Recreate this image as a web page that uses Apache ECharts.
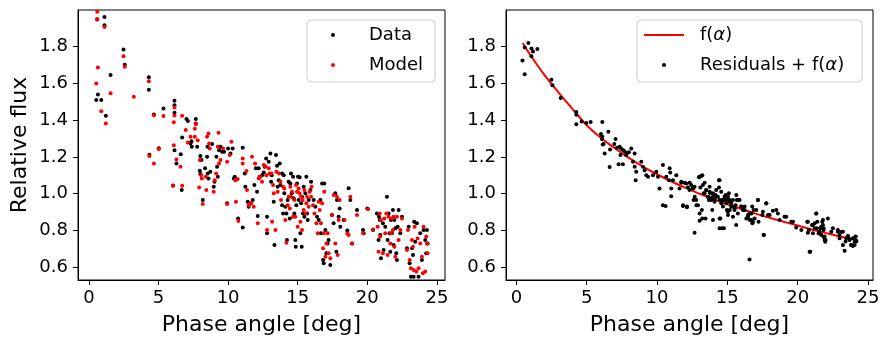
<!DOCTYPE html>
<html><head><meta charset="utf-8">
<script src="https://cdn.jsdelivr.net/npm/echarts@6/dist/echarts.min.js"></script>
<style>html,body{margin:0;padding:0;background:#fff}#c{width:890px;height:346px}</style>
</head><body><div id="c"></div>
<script>
const xTicks=[0,5,10,15,20,25];
const yTicks=[0.6,0.8,1.0,1.2,1.4,1.6,1.8];
const dataPts=[[0.60,1.947],[1.12,1.961],[1.12,1.916],[0.53,1.509],[0.65,1.539],[0.89,1.509],[1.22,1.424],[1.56,1.646],[2.49,1.784],[2.58,1.702],[4.31,1.633],[4.31,1.565],[4.35,1.212],[4.67,1.431],[5.02,1.248],[5.36,1.463],
[6.15,1.505],[6.15,1.481],[6.15,1.44],[6.15,1.237],[6.29,1.165],[6.60,1.215],[6.67,1.02],[6.70,1.306],[6.05,1.045],[7.01,1.407],[7.11,1.396],[7.30,1.273],[7.37,1.286],[7.39,1.255],[7.68,1.407],[7.68,1.382],[7.78,1.255],[8.01,1.205],[7.97,1.125],[8.01,1.107],
[8.09,1.183],[8.18,0.966],[8.35,1.138],[8.49,1.201],[8.52,1.255],[8.54,1.11],[8.59,1.083],[8.73,1.12],[8.85,1.27],[8.97,1.038],[9.02,1.065],[9.16,1.201],[9.21,1.147],[9.26,1.092],[9.35,1.237],[9.45,1.255],[9.57,1.228],[9.71,1.228],[9.93,0.948],[10.0,1.246],
[10.17,1.219],[10.33,1.246],[10.41,1.083],[10.48,1.092],[10.72,0.866],[11.05,1.25],[11.05,0.817],[11.20,1.11],[11.24,1.038],[11.41,0.957],[11.48,0.929],[11.65,0.948],[11.77,0.966],[11.89,1.047],[11.99,1.138],
[12.08,1.011],[12.13,0.879],[12.20,1.138],[12.27,1.092],[12.44,1.101],[12.56,1.116],[12.63,1.147],[12.73,1.192],[12.80,0.875],[12.80,0.785],[12.92,1.174],[13.04,1.219],[13.09,1.065],[13.13,1.101],[13.28,0.957],[13.33,0.721],[13.44,1.21],[13.52,1.152],[13.56,1.038],[13.64,1.074],[13.71,1.165],[13.76,1.047],[13.88,1.11],[13.88,0.938],[13.95,0.893],[14.0,1.101],
[14.04,1.002],[14.11,0.929],[14.19,0.893],[14.23,0.748],[14.28,0.966],[14.35,1.065],[14.43,0.866],[14.47,1.056],[14.52,1.11],[14.57,1.002],[14.67,1.092],[14.71,0.975],[14.76,0.893],[14.83,0.748],[14.86,0.712],[14.90,0.938],[14.95,1.056],[15.02,1.092],[15.07,0.966],[15.14,1.089],[15.19,0.785],[15.24,0.948],[15.29,0.712],[15.31,0.984],[15.38,0.893],[15.43,1.038],[15.48,0.875],[15.55,1.002],[15.62,1.092],[15.67,0.893],[15.72,0.857],[15.79,0.966],[15.91,1.02],[15.96,1.065],
[16.15,0.966],[16.27,0.929],[16.39,0.875],[16.51,0.857],[16.63,0.966],[16.67,0.785],[16.75,1.056],[16.82,0.64],[16.87,0.622],[16.91,1.056],[16.99,0.803],[17.06,0.676],[17.15,0.73],[17.22,0.748],[17.34,0.613],[17.46,0.884],[17.58,0.839],[17.70,1.002],[17.78,0.685],[17.82,0.966],[17.94,0.875],[18.01,0.92],[18.06,0.821],
[18.30,0.857],[18.56,0.80],[18.66,1.03],[18.78,0.966],[18.90,0.73],[19.26,0.911],[19.69,0.803],[19.74,0.785],[20.0,0.92],
[20.41,0.803],[20.69,0.893],[20.81,0.748],[20.84,0.875],[20.89,0.857],[20.93,0.776],[20.98,0.649],[21.12,0.839],[21.17,0.694],[21.29,0.821],[21.41,0.984],[21.46,0.748],[21.53,0.893],[21.60,0.785],[21.65,0.685],[21.70,0.857],[21.77,0.785],[21.84,0.911],[21.89,0.721],[21.94,0.857],[22.01,0.812],[22.08,0.676],[22.13,0.64],[22.18,0.821],[22.25,0.911],[22.37,0.785],[22.49,0.875],
[22.85,0.703],[22.97,0.821],[23.04,0.622],[23.13,0.549],[23.21,0.703],[23.28,0.667],[23.33,0.549],[23.37,0.848],[23.44,0.739],[23.56,0.839],[23.68,0.549],[23.80,0.785],[23.92,0.64],[24.04,0.803],[24.16,0.748],[24.23,0.676],[24.28,0.803],[24.33,0.73]];
const modelPts=[[0.60,1.99],[0.60,1.95],[1.12,1.907],[0.53,1.60],[0.65,1.686],[0.89,1.449],[1.22,1.382],[1.56,1.547],[2.49,1.748],[2.58,1.69],[3.23,1.527],[4.31,1.612],[4.35,1.205],[4.67,1.427],[4.67,1.165],[5.02,1.243],[5.36,1.422],
[6.10,1.389],[6.15,1.469],[6.15,1.425],[6.10,1.264],[6.29,1.186],[6.58,1.147],[6.05,1.043],[6.70,1.043],[6.70,1.424],[6.96,1.346],[7.11,1.279],[7.30,1.31],[7.61,1.31],[7.61,1.353],[7.68,1.378],[7.82,1.291],[7.92,1.034],[7.97,1.183],[8.06,1.10],
[8.18,0.944],[8.11,1.083],[8.40,1.092],[8.44,1.02],[8.49,1.31],[8.59,1.328],[8.64,1.273],[8.68,1.246],[8.97,1.011],[9.04,1.074],[9.14,1.11],[9.26,1.255],[9.31,1.331],[9.35,1.165],[9.45,1.183],[9.64,1.246],[9.93,0.944],[9.93,1.174],
[10.12,1.21],[10.24,1.282],[10.53,1.074],[10.57,0.957],[10.69,1.08],[10.74,0.852],[11.05,1.192],[11.05,1.165],[11.32,1.123],[11.36,1.02],[11.48,0.938],[11.65,0.951],[11.72,1.201],[11.84,0.929],[11.94,1.165],
[12.13,0.839],[12.20,1.083],[12.32,1.092],[12.44,1.065],[12.56,1.156],[12.68,1.15],[12.75,1.101],[12.80,0.803],[12.92,1.138],[12.99,1.11],[13.11,1.11],[13.16,0.848],[13.23,1.047],[13.28,1.002],[13.40,0.803],[13.47,1.119],[13.56,1.011],[13.66,1.11],[13.76,1.065],[13.80,0.966],[13.95,1.038],
[14.04,1.029],[14.11,0.857],[14.19,0.734],[14.28,0.938],[14.35,0.984],[14.43,0.92],[14.47,1.038],[14.52,0.984],[14.59,1.011],[14.67,0.875],[14.76,0.966],[14.83,0.875],[14.88,1.047],[14.95,1.011],[15.0,0.821],[15.07,1.029],[15.14,1.002],[15.19,0.848],[15.24,0.984],[15.31,0.803],[15.36,0.966],[15.43,0.911],[15.48,1.02],[15.55,0.893],[15.62,0.948],[15.67,0.984],[15.79,0.929],[15.86,1.011],[15.96,0.984],[16.0,1.038],
[16.10,0.938],[16.20,0.893],[16.34,0.839],[16.44,0.785],[16.51,0.957],[16.58,0.911],[16.67,0.839],[16.75,0.948],[16.82,0.703],[16.87,0.785],[16.91,1.011],[16.99,0.658],[17.06,0.73],[17.15,0.785],[17.22,0.676],[17.34,0.649],[17.46,0.884],[17.58,0.993],[17.70,0.73],[17.82,0.984],[17.87,0.667],[17.94,0.857],[18.01,0.966],
[18.37,0.857],[18.56,0.784],[18.66,0.775],[18.78,0.984],[18.90,0.73],[19.26,0.884],[19.69,0.785],[20.05,0.915],
[20.41,0.806],[20.74,0.821],[20.81,0.685],[20.89,0.893],[20.93,0.767],[20.98,0.857],[21.12,0.676],[21.22,0.866],[21.29,0.785],[21.36,0.893],[21.46,0.667],[21.53,0.875],[21.65,0.73],[21.70,0.785],[21.77,0.866],[21.84,0.803],[21.89,0.875],[21.94,0.712],[22.01,0.658],[22.13,0.875],[22.25,0.748],[22.37,0.803],[22.49,0.866],
[22.85,0.694],[22.92,0.803],[23.04,0.64],[23.13,0.595],[23.21,0.748],[23.28,0.712],[23.33,0.586],[23.40,0.821],[23.52,0.577],[23.61,0.757],[23.68,0.595],[23.80,0.73],[23.92,0.658],[23.99,0.568],[24.04,0.821],[24.16,0.577],[24.23,0.767],[24.28,0.73],[24.33,0.676]];
const curvePts=[[0.45,1.82],[1,1.753],[2,1.645],[3,1.55],[4,1.46],[5,1.372],[6,1.304],[7,1.248],[8,1.195],[9,1.148],[10,1.106],[11,1.068],[12,1.033],[13,1.001],[14,0.971],[15,0.943],[16,0.917],[17,0.892],[18,0.869],[19,0.848],[20,0.827],[21,0.806],[22,0.786],[23,0.768],[24.2,0.75]];
const residPts=[[0.43,1.724],[0.59,1.65],[0.59,1.795],[0.85,1.82],[1.07,1.79],[1.18,1.773],[1.07,1.748],[1.49,1.787],[2.49,1.62],[2.56,1.59],[3.15,1.52],[4.26,1.445],[4.26,1.43],[4.26,1.378],[4.64,1.393],[4.97,1.384],[5.28,1.39],[6.11,1.39],[6.01,1.325],[6.11,1.31],[6.08,1.298],[6.14,1.268],[6.28,1.219],[6.2,1.27],[6.54,1.337],[6.63,1.145],[6.66,1.24],[6.96,1.271],[7.05,1.297],[7.27,1.16],[7.57,1.16],[7.34,1.255],[7.45,1.245],[7.6,1.236],[7.7,1.23],[7.85,1.22],[8.0,1.225],[7.15,1.25],[7.4,1.21],[7.8,1.21],
[8.17,1.246],[8.41,1.219],[8.29,1.174],[8.41,1.147],[8.52,1.12],[8.48,1.074],[8.88,1.174],[9.0,1.147],[9.12,1.128],[9.24,1.101],[9.36,1.092],[9.71,1.101],[9.95,1.12],[10.07,1.092],[10.18,1.029],[10.42,1.156],[10.42,0.938],[10.61,0.933],[10.66,1.092],[10.85,1.074],[10.9,1.138],[10.94,1.116],[11.01,1.029],[11.01,0.987],[11.13,1.074],[11.37,1.101],[11.6,1.029],[11.72,1.06],[11.84,0.933],[11.96,1.06],[12.13,0.926],[12.2,1.034],[12.32,1.02],[12.43,1.047],[12.55,1.029],[12.6,0.966],[12.67,1.038],[12.79,0.966],[12.91,0.938],[12.98,1.089],[13.03,0.893],[13.15,1.096],[13.19,0.911],[13.26,1.047],[13.38,1.002],[13.45,0.866],[13.5,1.02],[13.62,0.984],[13.69,0.966],[13.74,1.038],[13.79,1.002],[13.86,0.975],[13.93,0.911],[13.97,0.984],[14.09,0.957],[14.16,0.993],[14.21,1.02],[14.33,0.984],[14.4,1.074],[14.45,0.966],[14.5,0.866],[14.57,0.948],[14.64,0.966],[14.69,0.93],[14.76,0.812],[14.8,0.984],[14.88,0.966],[14.92,0.948],[14.97,0.911],[15.04,0.902],[15.11,1.002],[15.16,0.966],[15.28,0.948],[15.35,0.93],[15.4,0.875],[15.51,0.911],[15.59,0.938],[15.63,0.83],[15.68,0.966],[15.75,0.893],[15.87,0.966],[15.99,0.93],[16.11,0.911],[16.23,0.93],[16.35,0.866],[16.47,0.875],[16.58,0.893],[16.7,0.857],[16.77,0.93],[16.82,0.848],[16.94,0.866],[17.06,0.911],[17.17,0.966],[16.58,0.643],[12.67,0.788],[13.03,0.853],[14.45,0.812],
[11.73,1.065],[12.08,1.056],[12.32,1.06],[12.56,1.029],[11.85,0.938],[12.13,0.93],[12.68,0.984],[12.8,0.938],[13.03,1.092],[13.22,1.1],[13.08,1.034],[13.39,1.06],[13.32,1.002],[13.5,1.02],[13.62,0.984],[13.74,1.011],[13.98,1.002],[13.86,0.966],[14.1,0.966],[14.22,0.984],[14.45,1.074],[14.41,1.034],[14.57,1.011],[14.69,0.966],[14.88,0.993],[14.93,0.966],[15.05,0.984],[15.17,0.957],[15.28,0.93],[15.4,0.966],[15.52,0.92],[15.64,0.993],[15.76,0.966],[15.17,0.911],[15.05,0.884],[14.45,0.866],[14.64,0.812],[13.98,0.857],[13.22,0.866],[16.0,0.93],[16.23,0.911],[16.47,0.884],[16.59,0.857],[16.71,0.893],[16.78,0.839],[16.87,0.911],[17.18,0.966],[17.49,0.884],[17.58,0.776],[17.77,0.948],[18.01,0.884],[18.48,0.911],[18.6,0.893],[19.19,0.875],[19.67,0.848],[20.73,0.848],[20.8,0.803],[20.9,0.685],[21.09,0.83],[21.21,0.839],[21.33,0.893],[21.37,0.812],[21.56,0.794],[21.68,0.821],[21.8,0.857],[21.85,0.812],[21.92,0.767],[21.99,0.749],[22.15,0.866],[22.51,0.812],[22.87,0.794],[22.98,0.776],[23.22,0.794],[23.41,0.74],[23.58,0.767],[23.7,0.749],[23.81,0.721],[23.93,0.758],[24.05,0.721],[24.12,0.767],[24.17,0.74],
[17.22,0.848],[17.53,0.902],[17.6,0.776],[17.77,0.947],[17.89,0.884],[18.24,0.908],[18.72,0.857],[19.07,0.875],[19.55,0.848],[19.9,0.817],[20.26,0.803],[20.68,0.848],[20.73,0.788],[20.85,0.685],[21.02,0.83],[21.09,0.785],[21.21,0.812],[21.32,0.893],[21.4,0.848],[21.49,0.785],[21.63,0.812],[21.68,0.776],[21.75,0.848],[21.8,0.83],[21.85,0.803],[21.87,0.763],[21.92,0.748],[21.96,0.739],[22.39,0.794],[22.86,0.803],[22.98,0.758],[23.1,0.794],[23.22,0.721],[23.34,0.69],[23.46,0.758],[23.57,0.77],[23.69,0.752],[23.81,0.721],[23.93,0.716],[24.05,0.739],[24.12,0.766],[24.17,0.745]];

const FONT='DejaVu Sans';
function xAx(i,min,max){
  return {type:'value',gridIndex:i,min:min,max:max,name:'Phase angle [deg]',nameLocation:'middle',nameGap:34,
    nameTextStyle:{fontFamily:FONT,fontSize:22,color:'#000'},
    axisLine:{show:true,onZero:false,lineStyle:{color:'#000',width:1}},
    axisTick:{show:true,length:5,customValues:xTicks,lineStyle:{color:'#000',width:1}},
    axisLabel:{customValues:xTicks,fontFamily:FONT,fontSize:18,color:'#000',margin:9},
    splitLine:{show:false}};
}
function yAx(i,name){
  return {type:'value',gridIndex:i,min:0.531,max:1.999,name:name,nameLocation:'middle',nameGap:47,
    nameTextStyle:{fontFamily:FONT,fontSize:22,color:'#000'},
    axisLine:{show:true,onZero:false,lineStyle:{color:'#000',width:1}},
    axisTick:{show:true,length:5,customValues:yTicks,lineStyle:{color:'#000',width:1}},
    axisLabel:{customValues:yTicks,fontFamily:FONT,fontSize:18,color:'#000',margin:10,formatter:function(v){return v.toFixed(1);}},
    splitLine:{show:false}};
}
function legendFmt(n){return n.replace('α','{i|α}');}
const legTextStyle={fontFamily:FONT,fontSize:18,color:'#000',lineHeight:18,padding:[0,0,0,11],
  rich:{i:{fontFamily:FONT,fontStyle:'italic',fontSize:18,color:'#000',lineHeight:18}}};
function leg(names,left,pad){
  return {data:names,left:left,top:20,orient:'vertical',itemWidth:40,itemHeight:4,itemGap:12,
    padding:pad,backgroundColor:'rgba(255,255,255,0.8)',borderColor:'#cccccc',borderWidth:1,borderRadius:4,
    selectedMode:false,formatter:legendFmt,textStyle:legTextStyle};
}
const chart=echarts.init(document.getElementById('c'),null,{renderer:'canvas'});
chart.setOption({
  animation:false,
  backgroundColor:'#fff',
  grid:[{left:78,top:10,width:367,height:270,show:true,borderColor:'#000',borderWidth:1,backgroundColor:'transparent'},
        {left:506,top:10,width:367,height:270,show:true,borderColor:'#000',borderWidth:1,backgroundColor:'transparent'}],
  xAxis:[xAx(0,-0.78,25.58),xAx(1,-0.74,25.36)],
  yAxis:[yAx(0,'Relative flux'),yAx(1,'')],
  legend:[leg(['Data','Model'],307,[6,12,8,24]),
          leg([{name:'f(α)',icon:'path://M0,0H40V2H0Z'},'Residuals + f(α)'],637,[6,18,8,7])],
  series:[
    {name:'Data',type:'scatter',xAxisIndex:0,yAxisIndex:0,data:dataPts,symbolSize:4,itemStyle:{color:'#000',opacity:1},z:2},
    {name:'Model',type:'scatter',xAxisIndex:0,yAxisIndex:0,data:modelPts,symbolSize:4,itemStyle:{color:'#ff0000',opacity:1},z:3},
    {name:'f(α)',type:'line',xAxisIndex:1,yAxisIndex:1,data:curvePts,symbol:'none',smooth:0.4,lineStyle:{color:'#ff0000',width:2},itemStyle:{color:'#ff0000'},z:2},
    {name:'Residuals + f(α)',type:'scatter',xAxisIndex:1,yAxisIndex:1,data:residPts,symbolSize:4,itemStyle:{color:'#000',opacity:1},z:3}
  ]
});
</script>
</body></html>
